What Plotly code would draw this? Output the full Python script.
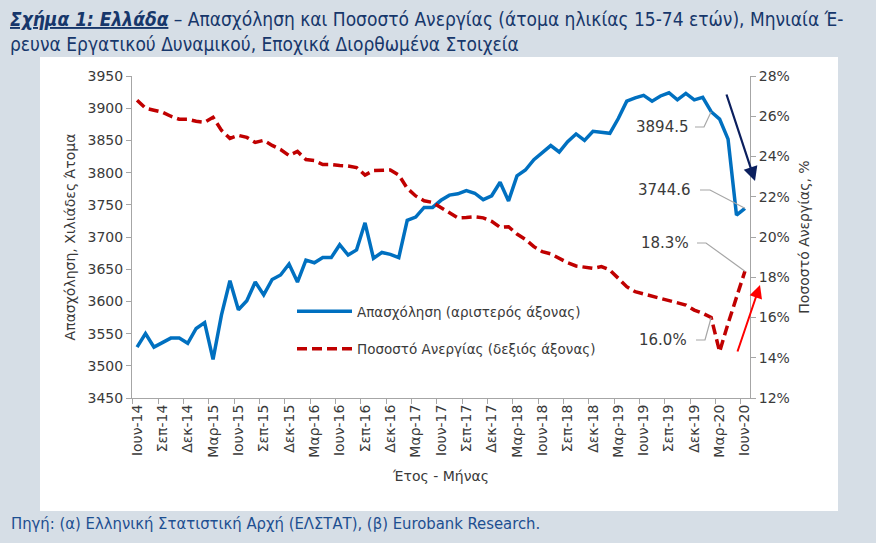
import plotly.graph_objects as go

# ---------------- data ----------------
month_names = ["Ιαν", "Φεβ", "Μαρ", "Απρ", "Μαϊ", "Ιουν", "Ιουλ", "Αυγ", "Σεπ", "Οκτ", "Νοε", "Δεκ"]
categories = []
for k in range(73):
    m = (5 + k) % 12
    y = 14 + (5 + k) // 12
    categories.append(f"{month_names[m]}-{y:02d}")

employment = [3529, 3550, 3529, 3536, 3543, 3543, 3535, 3558, 3567, 3510,
              3579, 3632, 3587, 3601, 3630, 3610, 3634, 3641, 3658, 3630,
              3664, 3660, 3668, 3668, 3688, 3672, 3680, 3722, 3667, 3676,
              3673, 3668, 3726, 3731, 3746, 3746, 3757, 3765, 3767, 3772,
              3768, 3758, 3764, 3785, 3756, 3795, 3804, 3820, 3831, 3842,
              3832, 3848, 3860, 3850, 3864, 3862, 3861, 3884, 3911, 3916,
              3920, 3911, 3919, 3924, 3913, 3923, 3913, 3917, 3894.5, 3883,
              3852, 3734, 3744.6]

unemployment = [26.8, 26.4, 26.3, 26.2, 26.0, 25.85, 25.85, 25.75, 25.7, 25.95,
                25.3, 24.9, 25.05, 24.95, 24.7, 24.8, 24.55, 24.35, 24.05, 24.25,
                23.85, 23.8, 23.6, 23.6, 23.55, 23.53, 23.45, 23.08, 23.3, 23.33,
                23.33, 23.08, 22.42, 22.04, 21.8, 21.72, 21.45, 21.2, 20.95, 20.97,
                21.0, 20.95, 20.78, 20.48, 20.51, 20.15, 19.88, 19.52, 19.27, 19.16,
                18.94, 18.72, 18.56, 18.49, 18.44, 18.53, 18.36, 17.95, 17.53, 17.28,
                17.17, 17.1, 16.99, 16.87, 16.75, 16.62, 16.37, 16.21, 16.0, 14.3,
                15.7, 17.0, 18.3]

tick_idx = list(range(0, 73, 3))
tick_text = [categories[i] for i in tick_idx]
x = list(range(len(categories)))

# ---------------- layout helpers (pixel -> paper) ----------------
W, H = 876, 543
L, R, T, B = 132, 750, 76, 398
def px(v):
    return (v - L) / (R - L)
def py(v):
    return (B - v) / (B - T)

TXT = "#3a3a3a"
AX = "#a6a6a6"
FONT = "DejaVu Sans"
NARROW = "Liberation Sans Narrow, DejaVu Sans Condensed, sans-serif"

fig = go.Figure()
fig.add_trace(go.Scatter(x=x, y=employment, mode="lines", name="Απασχόληση (αριστερός άξονας)",
                         line=dict(color="#0070c0", width=3.5), legendgroup="a"))
fig.add_trace(go.Scatter(x=x, y=unemployment, mode="lines", name="Ποσοστό Ανεργίας (δεξιός άξονας)",
                         line=dict(color="#c00000", width=3.5, dash="10px,5px"), yaxis="y2", legendgroup="b"))

shapes = [dict(type="rect", xref="paper", yref="paper", x0=px(40), x1=px(838), y0=py(511), y1=py(57),
               fillcolor="white", line=dict(width=0), layer="below")]

annotations = []

def xd(p):
    return (p - L) / ((R - L) / 73.2) - 0.6
def yd1(p):
    return 3950 - (p - T) / (B - T) * 500
def yd2(p):
    return 28 - (p - T) / (B - T) * 16

def leader(text, tx_right, ty, x_a, x_b, xi, yi, yref):
    conv = yd1 if yref == "y" else yd2
    yy = conv(ty)
    shapes.append(dict(type="path", xref="x", yref=yref,
                       path=f"M {xd(x_a)},{yy} L {xd(x_b)},{yy} L {xi},{yi}",
                       line=dict(color="#a6a6a6", width=1.2)))
    annotations.append(dict(text=text, x=xd(tx_right), y=yy, xref="x", yref=yref, showarrow=False,
                            xanchor="right", yanchor="middle", font=dict(family=FONT, size=15, color=TXT)))

leader("3894.5", 691, 127, 695, 704, 68, employment[68], "y")
leader("3744.6", 693, 190, 700, 710, 72, employment[72], "y")
leader("18.3%", 691, 243, 697, 706, 72, unemployment[72], "y2")
leader("16.0%", 689, 340, 696, 705, 68, unemployment[68], "y2")

# trend arrows
annotations.append(dict(x=xd(755), y=yd2(181), ax=xd(726), ay=yd2(93), xref="x", yref="y2",
                        axref="x", ayref="y2", showarrow=True, arrowhead=2, arrowsize=1.3,
                        arrowwidth=2.2, arrowcolor="#0b1f5e", text=""))
annotations.append(dict(x=xd(760), y=yd2(285), ax=xd(737), ay=yd2(353), xref="x", yref="y2",
                        axref="x", ayref="y2", showarrow=True, arrowhead=2, arrowsize=1.3,
                        arrowwidth=2, arrowcolor="#ff0000", text=""))

# title
title = ("<b><i><u>Σχήμα 1: Ελλάδα</u></i></b> – Απασχόληση και Ποσοστό Ανεργίας (άτομα ηλικίας 15-74 ετών), Μηνιαία Έ-"
         "<br>ρευνα Εργατικού Δυναμικού, Εποχικά Διορθωμένα Στοιχεία")
annotations.append(dict(text=title, xref="paper", yref="paper", x=px(8), y=py(6),
                        xanchor="left", yanchor="top", align="left", showarrow=False,
                        font=dict(family=NARROW, size=19, color="#17376b")))

# source
annotations.append(dict(text="Πηγή: (α) Ελληνική Στατιστική Αρχή (ΕΛΣΤΑΤ), (β) Eurobank Research.",
                        xref="paper", yref="paper", x=px(9), y=py(523), xanchor="left", yanchor="middle",
                        showarrow=False,
                        font=dict(family=NARROW, size=16.5, color="#1d4f91")))

fig.update_layout(
    width=W, height=H,
    margin=dict(l=L, r=W - R, t=T, b=H - B),
    paper_bgcolor="#d6dee6", plot_bgcolor="white",
    xaxis=dict(range=[-0.6, 72.6], tickmode="array", tickvals=tick_idx, ticktext=tick_text,
               tickangle=-90, ticks="", showgrid=False, zeroline=False,
               showline=True, linecolor=AX, linewidth=1,
               tickfont=dict(family=FONT, size=14, color=TXT),
               minor=dict(tickmode="linear", tick0=-0.5, dtick=3, ticks="outside", ticklen=5,
                          tickcolor=AX, showgrid=False),
               title=dict(text="Έτος - Μήνας", font=dict(family=FONT, size=14, color=TXT), standoff=14)),
    yaxis=dict(range=[3450, 3950], dtick=50, showgrid=False, zeroline=False,
               showline=True, linecolor=AX, ticks="outside", ticklen=5, tickcolor=AX,
               tickfont=dict(family=FONT, size=14, color=TXT),
               title=dict(text="Απασχόληση, Χιλιάδες Άτομα", font=dict(family=FONT, size=14, color=TXT),
                          standoff=8)),
    yaxis2=dict(range=[12, 28], dtick=2, ticksuffix="%", overlaying="y", side="right",
                showgrid=False, zeroline=False, showline=True, linecolor=AX,
                ticks="outside", ticklen=5, tickcolor=AX,
                tickfont=dict(family=FONT, size=14, color=TXT),
                title=dict(text="Ποσοστό Ανεργίας, %", font=dict(family=FONT, size=14, color=TXT),
                           standoff=10)),
    legend=dict(x=px(292), y=py(296), xanchor="left", yanchor="top", bgcolor="rgba(0,0,0,0)",
                font=dict(family=FONT, size=13.5, color=TXT), itemwidth=55, tracegroupgap=17,
                traceorder="grouped"),
    shapes=shapes, annotations=annotations,
)

fig.write_html("out.html")
